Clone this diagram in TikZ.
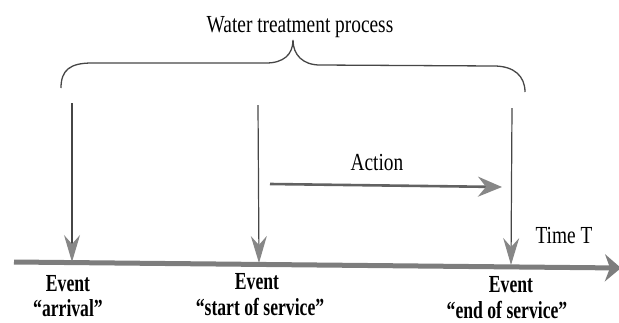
\documentclass[tikz,border=0pt]{standalone}
\usepackage{fontspec}
\setmainfont{Liberation Serif}
\newfontfamily\condfont[FakeStretch=0.79]{Liberation Serif}
\newfontfamily\evtfont[FakeStretch=0.72]{Liberation Serif}
\usetikzlibrary{arrows.meta}
\definecolor{ink}{RGB}{70,70,70}
\definecolor{headgray}{RGB}{135,135,135}
\definecolor{axisgray}{RGB}{125,125,125}
\tikzset{
	lbl/.style={font=\condfont\fontsize{24.5}{24.5}\selectfont,inner sep=0pt,anchor=base},
	evt/.style={font=\evtfont\bfseries\fontsize{24.5}{24.5}\selectfont,inner sep=0pt,anchor=base},
	evarrow/.style={draw=ink,line width=1.2pt,-{Stealth[length=27pt,width=16pt,inset=9pt,color=headgray,fill=headgray]}},
	bracel/.style={draw=ink,line width=1.3pt},
}
\begin{document}
\begin{tikzpicture}[x=1pt,y=-1pt]
		\useasboundingbox (0,0) rectangle (619,322);
		% title and brace
		\node[lbl] (wtp) at (300,32) {Water treatment process};
		\coordinate (bl) at (61,88);
		\coordinate (bt) at (293,40);
		\coordinate (br) at (525,92);
		\draw[bracel] (bl) .. controls (61,70) and (70,63) .. (92,63) -- (266,63)
			.. controls (283,63) and (293,55) .. (bt)
			.. controls (293,55) and (303,65) .. (320,65) -- (494,66)
			.. controls (514,66) and (525,76) .. (br);
		
		% time axis
		\coordinate (ax0) at (14,262);
		\coordinate (ax1) at (621,268);
		\draw[draw=axisgray,line width=5pt,-{Stealth[length=16pt,width=27pt,inset=5pt,fill=axisgray]}] (ax0) -- (ax1);
		\node[lbl] (time) at (564,243) {Time T};
		
		% action
		\coordinate (ac0) at (270,184);
		\coordinate (ac1) at (502,187);
		\draw[draw=ink!85,line width=2.6pt,-{Stealth[length=24pt,width=20pt,inset=8pt,color=headgray,fill=headgray]}] (ac0) -- (ac1);
		\node[lbl] (act) at (377,170) {Action};
		
		% events
		\coordinate (s1) at (72,103);
		\coordinate (t1) at (72,262);
		\coordinate (s2) at (258,105);
		\coordinate (t2) at (259,263);
		\coordinate (s3) at (512,108);
		\coordinate (t3) at (511,265);
		\draw[evarrow] (s1) -- (t1);
		\draw[evarrow] (s2) -- (t2);
		\draw[evarrow] (s3) -- (t3);
		
		\node[evt] (ev1) at (68,291) {Event};
		\node[evt] (arr) at (68,316) {“arrival”};
		\node[evt] (ev2) at (257,289) {Event};
		\node[evt] (sos) at (260,315) {“start of service”};
		\node[evt] (ev3) at (511,292) {Event};
		\node[evt] (eos) at (507,318) {“end of service”};
\end{tikzpicture}
\end{document}
